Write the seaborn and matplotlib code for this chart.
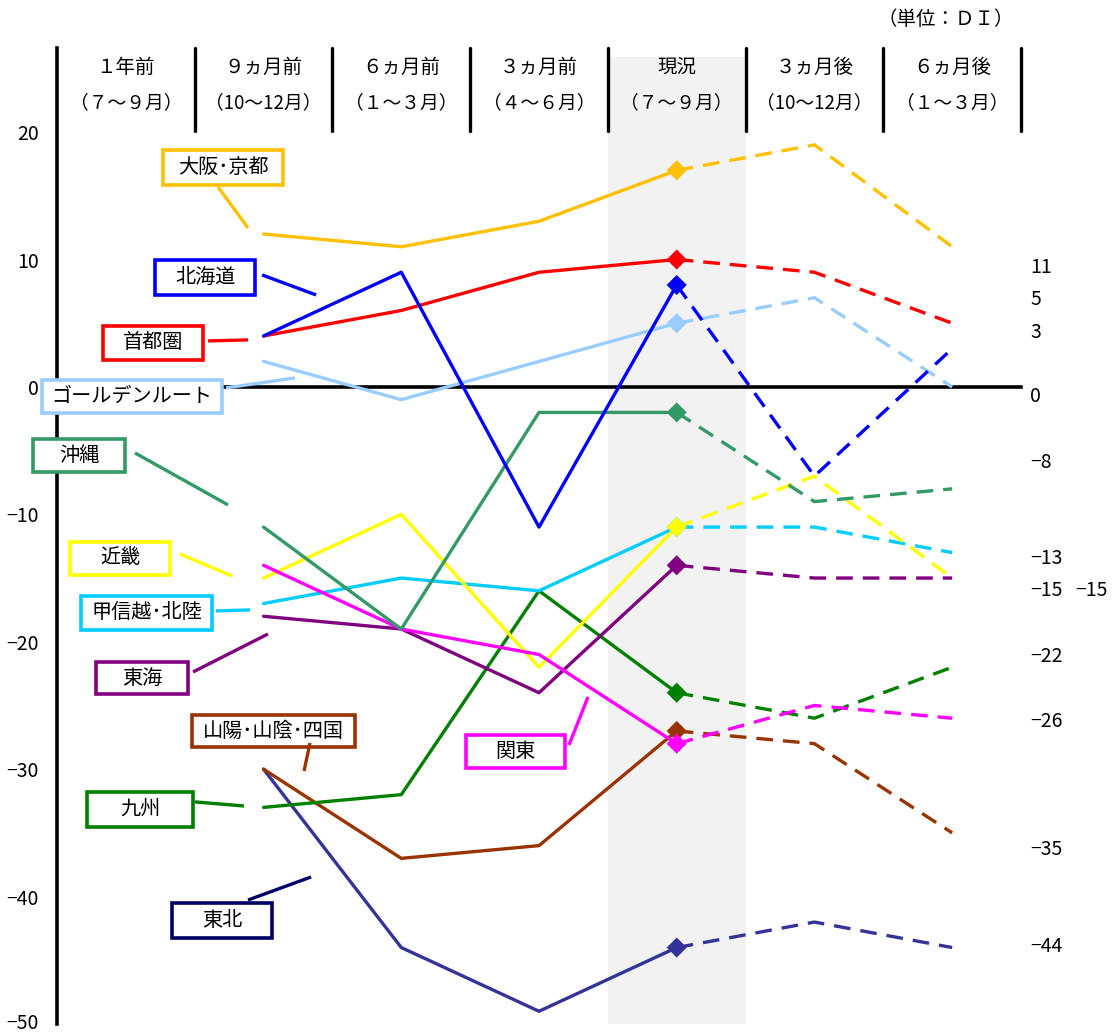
import matplotlib
matplotlib.use("Agg")
import matplotlib.pyplot as plt
from matplotlib.patches import Rectangle
from matplotlib.transforms import ScaledTranslation
import pandas as pd
import seaborn as sns

# Column headings (period and months)
periods = ["１年前", "９ヵ月前", "６ヵ月前", "３ヵ月前", "現況", "３ヵ月後", "６ヵ月後"]
period_months = ["（７～９月）", "（10～12月）", "（１～３月）", "（４～６月）",
                 "（７～９月）", "（10～12月）", "（１～３月）"]

# DI by region, 9ヵ月前 through 6ヵ月後
osaka_kyoto = [12, 11, 13, 17, 19, 11]
hokkaido = [4, 9, -11, 8, -7, 3]
shutoken = [4, 6, 9, 10, 9, 5]
golden_route = [2, -1, 2, 5, 7, 0]
okinawa = [-11, -19, -2, -2, -9, -8]
kinki = [-15, -10, -22, -11, -7, -15]
koshinetsu_hokuriku = [-17, -15, -16, -11, -11, -13]
tokai = [-18, -19, -24, -14, -15, -15]
sanyo_sanin_shikoku = [-30, -37, -36, -27, -28, -35]
kanto = [-14, -19, -21, -28, -25, -26]
kyushu = [-33, -32, -16, -24, -26, -22]
tohoku = [-30, -44, -49, -44, -42, -44]

# Drawing order (later entries are drawn on top)
series = {
    "東北": tohoku,
    "山陽･山陰･四国": sanyo_sanin_shikoku,
    "九州": kyushu,
    "甲信越･北陸": koshinetsu_hokuriku,
    "東海": tokai,
    "近畿": kinki,
    "関東": kanto,
    "沖縄": okinawa,
    "ゴールデンルート": golden_route,
    "首都圏": shutoken,
    "北海道": hokkaido,
    "大阪･京都": osaka_kyoto,
}

colors = {
    "大阪･京都": "#FFC000",
    "北海道": "#0000FF",
    "首都圏": "#FF0000",
    "ゴールデンルート": "#99CCFF",
    "沖縄": "#339966",
    "近畿": "#FFFF00",
    "甲信越･北陸": "#00CCFF",
    "東海": "#800080",
    "山陽･山陰･四国": "#993300",
    "関東": "#FF00FF",
    "九州": "#008000",
    "東北": "#333399",
}
box_colors = dict(colors, 東北="#000066")

NOW = 4  # column index of 現況

# Long table: actual (solid) up to 現況, outlook (dashed) from 現況 on
rows = []
for region, vals in series.items():
    for k, v in enumerate(vals):
        pos = k + 1
        if pos <= NOW:
            rows.append((region, pos, v, "実績"))
        if pos >= NOW:
            rows.append((region, pos, v, "見通し"))
df = pd.DataFrame(rows, columns=["region", "pos", "DI", "segment"])
df_now = df[(df["pos"] == NOW) & (df["segment"] == "実績")]
order = list(series.keys())

sns.set_style("white")
plt.rcParams["font.family"] = ["Noto Sans CJK JP", "DejaVu Sans"]
plt.rcParams["axes.unicode_minus"] = True
plt.rcParams["text.color"] = "black"
plt.rcParams["axes.edgecolor"] = "black"
plt.rcParams["xtick.color"] = "black"
plt.rcParams["ytick.color"] = "black"

fig = plt.figure(figsize=(11.15, 10.32), dpi=100)
ax = fig.add_axes([57 / 1115, 8 / 1032, 964 / 1115, 976 / 1032])
ax.set_xlim(-0.5, 6.5)
ax.set_ylim(-50, 26.6)

# Shaded 現況 column
ax.fill_between([3.5, 4.5], -50, 25.9, color="#F2F2F2", lw=0, zorder=0)

sns.lineplot(data=df, x="pos", y="DI", hue="region", hue_order=order,
             style="segment", palette=colors,
             dashes={"実績": "", "見通し": (5, 3)},
             linewidth=2.4, legend=False, ax=ax, sort=False,
             estimator=None, zorder=3)
sns.scatterplot(data=df_now, x="pos", y="DI", hue="region", hue_order=order,
                palette=colors, marker="D", s=105, linewidth=0,
                legend=False, ax=ax, zorder=4)

# Axes styling: y-axis on left, x-axis crossing at 0
for side in ("top", "right"):
    ax.spines[side].set_visible(False)
ax.spines["left"].set_linewidth(2.6)
ax.spines["bottom"].set_position(("data", 0))
ax.spines["bottom"].set_linewidth(2.6)
ax.set_xticks([i + 0.5 for i in range(-1, 7)])
ax.set_xticklabels([])
ax.set_yticks(range(-50, 21, 10))
ax.tick_params(axis="both", direction="out", length=5, width=2, color="black")
ax.tick_params(axis="y", labelsize=14, pad=8)
ax.set_xlabel("")
ax.set_ylabel("")

# keep the bottom tick label inside the canvas
fig.canvas.draw()
bottom_label = ax.get_yticklabels()[0]
bottom_label.set_transform(bottom_label.get_transform()
                           + ScaledTranslation(0, 3 / 100, fig.dpi_scale_trans))

# Header row: separators and period labels
for i in range(7):
    ax.plot([i + 0.5, i + 0.5], [20.1, 26.6], color="black", lw=2.4,
            clip_on=False, zorder=5)
    ax.text(i, 25.1, periods[i], ha="center", va="center", fontsize=14)
    ax.text(i, 22.3, period_months[i], ha="center", va="center", fontsize=13.5)

fig.text(0.848, 0.981, "（単位：ＤＩ）", ha="center", va="center", fontsize=14)

# Region name boxes with leader lines (x0, x1, y_bottom, y_top, leader)
boxes = {
    "大阪･京都": (0.270, 1.141, 15.86, 18.60, [(0.669, 15.70), (0.887, 12.48)]),
    "北海道": (0.212, 0.938, 7.22, 9.97, [(0.989, 8.79), (1.381, 7.22)]),
    "首都圏": (-0.166, 0.560, 2.12, 4.79, [(0.597, 3.61), (0.887, 3.69)]),
    "ゴールデンルート": (-0.610, 0.698, -2.05, 0.55, [(0.727, -0.08), (1.228, 0.71)]),
    "沖縄": (-0.674, -0.006, -6.67, -4.08, [(0.066, -5.18), (0.742, -9.26)]),
    "近畿": (-0.406, 0.321, -14.76, -12.17, [(0.393, -13.11), (0.771, -14.84)]),
    "甲信越･北陸": (-0.326, 0.626, -19.07, -16.40, [(0.655, -17.58), (0.902, -17.50)]),
    "東海": (-0.217, 0.451, -24.10, -21.60, [(0.488, -22.37), (1.032, -19.39)]),
    "山陽･山陰･四国": (0.480, 1.664, -28.26, -25.75, [(1.337, -27.94), (1.294, -30.14)]),
    "関東": (2.470, 3.189, -29.91, -27.31, [(3.218, -28.10), (3.356, -24.33)]),
    "九州": (-0.282, 0.488, -34.54, -31.79, [(0.502, -32.57), (0.858, -32.89)]),
    "東北": (0.335, 1.061, -43.25, -40.50, [(0.887, -40.27), (1.345, -38.46)]),
}
for region, (x0, x1, y0, y1, leader) in boxes.items():
    c = box_colors[region]
    ax.add_patch(Rectangle((x0, y0), x1 - x0, y1 - y0, facecolor="white",
                           edgecolor=c, lw=2.6, clip_on=False, zorder=6))
    ax.text((x0 + x1) / 2, (y0 + y1) / 2, region, ha="center", va="center",
            fontsize=14.5, zorder=7)
    (lx0, ly0), (lx1, ly1) = leader
    ax.plot([lx0, lx1], [ly0, ly1], color=c, lw=2.4, clip_on=False,
            solid_capstyle="butt", zorder=6)

# Latest outlook values listed at the right edge
label_y = {
    "大阪･京都": 9.34, "首都圏": 6.83, "北海道": 4.24, "ゴールデンルート": -0.78,
    "沖縄": -5.97, "甲信越･北陸": -13.50, "近畿": -16.01, "東海": -16.01,
    "九州": -21.19, "関東": -26.22, "山陽･山陰･四国": -36.34, "東北": -43.88,
}
label_x = {region: 6.566 for region in series}
label_x["東海"] = 6.893
for region, vals in series.items():
    v = vals[-1]
    txt = str(v).replace("-", "\u2212")
    ax.text(label_x[region], label_y[region], txt, ha="left", va="center",
            fontsize=14, clip_on=False)

fig.savefig("out.png", dpi=100)
